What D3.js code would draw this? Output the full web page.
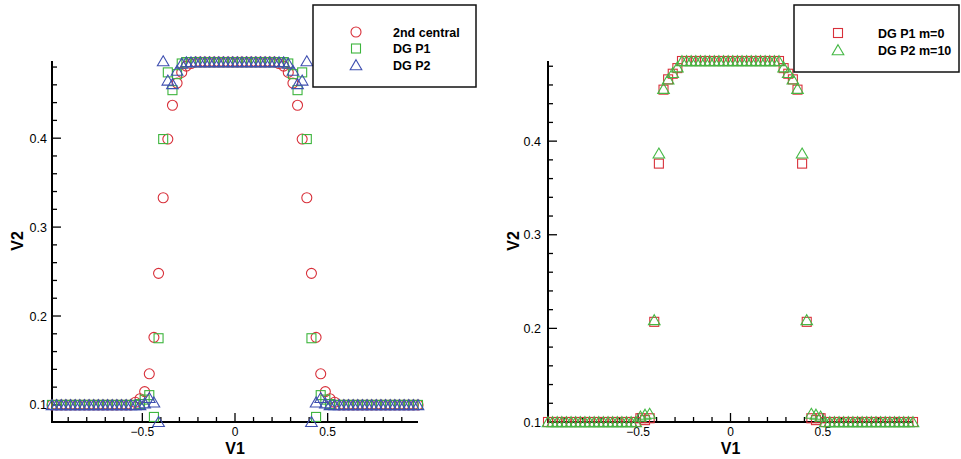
<!DOCTYPE html>
<html>
<head>
<meta charset="utf-8">
<script src="https://cdn.jsdelivr.net/npm/d3@7"></script>
<style>
  html,body{margin:0;padding:0;background:#fff}
  svg{display:block;font-family:"Liberation Sans",Arial,Helvetica,sans-serif}
</style>
</head>
<body>
<svg id="chart" width="961" height="459"></svg>
<script>
// cell centres (80 cells on [-1,1])
const V1 = [
  -0.9875,-0.9625,-0.9375,-0.9125,-0.8875,-0.8625,-0.8375,-0.8125,-0.7875,-0.7625,
  -0.7375,-0.7125,-0.6875,-0.6625,-0.6375,-0.6125,-0.5875,-0.5625,-0.5375,-0.5125,
  -0.4875,-0.4625,-0.4375,-0.4125,-0.3875,-0.3625,-0.3375,-0.3125,-0.2875,-0.2625,
  -0.2375,-0.2125,-0.1875,-0.1625,-0.1375,-0.1125,-0.0875,-0.0625,-0.0375,-0.0125,
   0.0125, 0.0375, 0.0625, 0.0875, 0.1125, 0.1375, 0.1625, 0.1875, 0.2125, 0.2375,
   0.2625, 0.2875, 0.3125, 0.3375, 0.3625, 0.3875, 0.4125, 0.4375, 0.4625, 0.4875,
   0.5125, 0.5375, 0.5625, 0.5875, 0.6125, 0.6375, 0.6625, 0.6875, 0.7125, 0.7375,
   0.7625, 0.7875, 0.8125, 0.8375, 0.8625, 0.8875, 0.9125, 0.9375, 0.9625, 0.9875
];

// left panel
const central2 = [
  0.1,0.1,0.1,0.1,0.1,0.1,0.1,0.1,0.1,0.1,
  0.1,0.1,0.1,0.1,0.1,0.1,0.1,0.1,0.103,0.107,
  0.115,0.135,0.176,0.248,0.333,0.399,0.437,0.462,0.474,0.481,
  0.484,0.4856,0.4856,0.4856,0.4856,0.4856,0.4856,0.4856,0.4856,0.4856,
  0.4856,0.4856,0.4856,0.4856,0.4856,0.4856,0.4856,0.4856,0.4856,0.484,
  0.481,0.474,0.462,0.437,0.399,0.333,0.248,0.176,0.135,0.115,
  0.107,0.103,0.1,0.1,0.1,0.1,0.1,0.1,0.1,0.1,
  0.1,0.1,0.1,0.1,0.1,0.1,0.1,0.1,0.1,0.1
];
const dgP1 = [
  0.1,0.1,0.1,0.1,0.1,0.1,0.1,0.1,0.1,0.1,
  0.1,0.1,0.1,0.1,0.1,0.1,0.1,0.1,0.1,0.101,
  0.106,0.111,0.0865,0.175,0.399,0.474,0.454,0.472,0.484,0.4856,
  0.4856,0.4856,0.4856,0.4856,0.4856,0.4856,0.4856,0.4856,0.4856,0.4856,
  0.4856,0.4856,0.4856,0.4856,0.4856,0.4856,0.4856,0.4856,0.4856,0.4856,
  0.4856,0.484,0.472,0.454,0.474,0.399,0.175,0.0865,0.111,0.106,
  0.101,0.1,0.1,0.1,0.1,0.1,0.1,0.1,0.1,0.1,
  0.1,0.1,0.1,0.1,0.1,0.1,0.1,0.1,0.1,0.1
];
const dgP2 = [
  0.1,0.1,0.1,0.1,0.1,0.1,0.1,0.1,0.1,0.1,
  0.1,0.1,0.1,0.1,0.1,0.1,0.1,0.1,0.1,0.1,
  0.102,0.108,0.103,0.081,0.4867,0.465,0.461,0.476,0.484,0.4856,
  0.4856,0.4856,0.4856,0.4856,0.4856,0.4856,0.4856,0.4856,0.4856,0.4856,
  0.4856,0.4856,0.4856,0.4856,0.4856,0.4856,0.4856,0.4856,0.4856,0.4856,
  0.4856,0.484,0.476,0.461,0.465,0.4867,0.081,0.103,0.108,0.102,
  0.1,0.1,0.1,0.1,0.1,0.1,0.1,0.1,0.1,0.1,
  0.1,0.1,0.1,0.1,0.1,0.1,0.1,0.1,0.1,0.1
];

// right panel
const dgP1m0 = [
  0.1,0.1,0.1,0.1,0.1,0.1,0.1,0.1,0.1,0.1,
  0.1,0.1,0.1,0.1,0.1,0.1,0.1,0.1,0.1,0.1,
  0.104,0.102,0.104,0.207,0.376,0.455,0.466,0.472,0.478,0.4856,
  0.4856,0.4856,0.4856,0.4856,0.4856,0.4856,0.4856,0.4856,0.4856,0.4856,
  0.4856,0.4856,0.4856,0.4856,0.4856,0.4856,0.4856,0.4856,0.4856,0.4856,
  0.4856,0.478,0.472,0.466,0.455,0.376,0.207,0.104,0.102,0.104,
  0.1,0.1,0.1,0.1,0.1,0.1,0.1,0.1,0.1,0.1,
  0.1,0.1,0.1,0.1,0.1,0.1,0.1,0.1,0.1,0.1
];
const dgP2m10 = [
  0.1,0.1,0.1,0.1,0.1,0.1,0.1,0.1,0.1,0.1,
  0.1,0.1,0.1,0.1,0.1,0.1,0.1,0.1,0.1,0.1,
  0.106,0.108,0.109,0.209,0.387,0.456,0.466,0.473,0.479,0.4856,
  0.4856,0.4856,0.4856,0.4856,0.4856,0.4856,0.4856,0.4856,0.4856,0.4856,
  0.4856,0.4856,0.4856,0.4856,0.4856,0.4856,0.4856,0.4856,0.4856,0.4856,
  0.4856,0.479,0.473,0.466,0.456,0.387,0.209,0.109,0.108,0.106,
  0.1,0.1,0.1,0.1,0.1,0.1,0.1,0.1,0.1,0.1,
  0.1,0.1,0.1,0.1,0.1,0.1,0.1,0.1,0.1,0.1
];

const xMajor = [-0.5, 0, 0.5];
const xMinor = d3.range(-9, 10).map(d => d / 10);
const yMajor = [0.1, 0.2, 0.3, 0.4];
const yMinor = d3.range(5, 25).map(d => d / 50);

const RED = '#d8303a', GREEN = '#3db53d', BLUE = '#3f4fb0';

const svg = d3.select('#chart');

const shape = {
  circle: g => g.append('circle').attr('r', 5),
  square: g => g.append('rect').attr('x', -4.5).attr('y', -4.5).attr('width', 9).attr('height', 9),
  triangle: g => g.append('path').attr('d', 'M0,-5.3L5.8,4.7L-5.8,4.7Z'),
};

function panel(opt) {
  const x = d3.scaleLinear().domain([-0.9875, 0.9875]).range([opt.x0, opt.x1]);
  const y = d3.scaleLinear().domain(opt.yDomain).range([422, 61]);
  const g = svg.append('g');

  // ticks (inward)
  const ax = g.append('g').attr('stroke', '#000').attr('stroke-width', 1.3);
  xMinor.forEach(v => {
    const len = xMajor.some(m => Math.abs(m - v) < 1e-9) ? 9 : 5;
    ax.append('line').attr('x1', x(v)).attr('x2', x(v)).attr('y1', 422).attr('y2', 422 - len);
  });
  yMinor.filter(v => y(v) <= 422.5 && y(v) >= 60).forEach(v => {
    const len = yMajor.some(m => Math.abs(m - v) < 1e-9) ? 9 : 5;
    ax.append('line').attr('x1', opt.x0).attr('x2', opt.x0 + len).attr('y1', y(v)).attr('y2', y(v));
  });
  ax.append('path').attr('fill', 'none').attr('stroke-width', 2)
    .attr('d', `M${opt.x0},61V422H${opt.x1}`);

  g.selectAll('.xl').data(xMajor).enter().append('text')
    .attr('x', d => x(d)).attr('y', 436).attr('text-anchor', 'middle')
    .style('font-size', '12px').text(d => d3.format('')(d));
  g.selectAll('.yl').data(yMajor).enter().append('text')
    .attr('x', opt.x0 - opt.labGap).attr('y', d => y(d) + 4.5).attr('text-anchor', 'end')
    .style('font-size', '12.5px').text(d => d);

  g.append('text').attr('x', x(0)).attr('y', 454).attr('text-anchor', 'middle')
    .style('font-size', '16px').style('font-weight', 'bold').text('V1');
  g.append('text').attr('transform', `translate(${opt.x0 - 29},241) rotate(-90)`)
    .attr('text-anchor', 'middle').style('font-size', '16px').style('font-weight', 'bold').text('V2');

  // data
  opt.series.forEach(s => {
    const sg = g.append('g').attr('fill', 'none').attr('stroke', s.color).attr('stroke-width', 1.1);
    V1.forEach((v, i) => {
      shape[s.shape](sg.append('g').attr('transform', `translate(${x(v)},${y(s.values[i])})`));
    });
  });

  // legend
  const lg = g.append('g');
  lg.append('rect').attr('x', opt.leg.x).attr('y', 5).attr('width', opt.leg.w).attr('height', opt.leg.h)
    .attr('fill', '#fff').attr('stroke', '#111').attr('stroke-width', 1.5);
  opt.series.forEach((s, i) => {
    const yy = opt.leg.y0 + i * opt.leg.dy;
    shape[s.shape](lg.append('g').attr('transform', `translate(${opt.leg.sx},${yy})`)
      .attr('fill', 'none').attr('stroke', s.color).attr('stroke-width', 1.1));
    lg.append('text').attr('x', opt.leg.tx).attr('y', yy + 4.5)
      .style('font-size', '12.5px').style('font-weight', 'bold').text(s.name);
  });
}

panel({
  x0: 52, x1: 418, yDomain: [0.0808, 0.4868], labGap: 5,
  series: [
    { name: '2nd central', shape: 'circle', color: RED, values: central2 },
    { name: 'DG P1', shape: 'square', color: GREEN, values: dgP1 },
    { name: 'DG P2', shape: 'triangle', color: BLUE, values: dgP2 },
  ],
  leg: { x: 313, w: 163, h: 82, sx: 356, tx: 393, y0: 32, dy: 16.5 },
});

panel({
  x0: 548, x1: 913, yDomain: [0.1, 0.4856], labGap: 7,
  series: [
    { name: 'DG P1 m=0', shape: 'square', color: RED, values: dgP1m0 },
    { name: 'DG P2 m=10', shape: 'triangle', color: '#44b844', values: dgP2m10 },
  ],
  leg: { x: 794, w: 165, h: 67, sx: 838, tx: 878, y0: 33, dy: 17 },
});
</script>
</body>
</html>
